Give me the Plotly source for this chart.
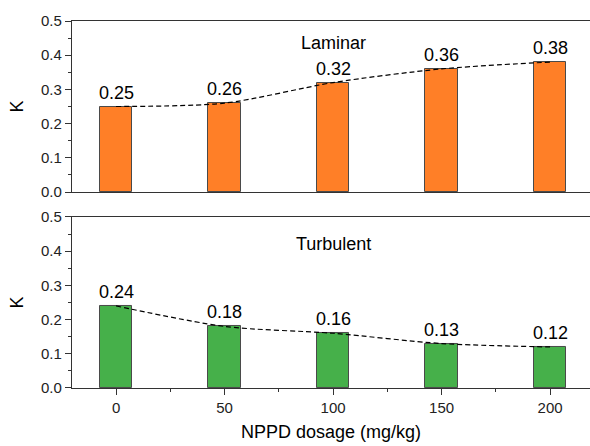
import plotly.graph_objects as go
from plotly.subplots import make_subplots

dosage = [0, 50, 100, 150, 200]
laminar_k = [0.25, 0.26, 0.32, 0.36, 0.38]
turbulent_k = [0.24, 0.18, 0.16, 0.13, 0.12]
laminar_labels = ["0.25", "0.26", "0.32", "0.36", "0.38"]
turbulent_labels = ["0.24", "0.18", "0.16", "0.13", "0.12"]

orange = "#FF7F27"
green = "#46B04A"
edge = "#4a4a4a"
axis_col = "#333333"
FONT = "Arial, Liberation Sans, sans-serif"

fig = make_subplots(rows=2, cols=1, shared_xaxes=False, vertical_spacing=0.068)

annotations = []
for row, vals, labels, col in [(1, laminar_k, laminar_labels, orange),
                               (2, turbulent_k, turbulent_labels, green)]:
    fig.add_trace(go.Bar(x=dosage, y=vals, width=15,
                         marker=dict(color=col, line=dict(color=edge, width=1)),
                         showlegend=False), row=row, col=1)
    fig.add_trace(go.Scatter(x=dosage, y=vals, mode="lines",
                             line=dict(color="black", width=1.2, dash="5px,3px", shape="spline", smoothing=0.8),
                             showlegend=False), row=row, col=1)
    xr = "x" if row == 1 else "x2"
    yr = "y" if row == 1 else "y2"
    for xv, yv, t in zip(dosage, vals, labels):
        annotations.append(dict(text=t, x=xv, y=yv, xref=xr, yref=yr, showarrow=False,
                                yanchor="bottom", yshift=2,
                                font=dict(size=18, color="black", family=FONT)))

annotations.append(dict(text="Laminar", x=100, y=0.436, xref="x", yref="y", showarrow=False,
                        font=dict(size=18, color="black", family=FONT)))
annotations.append(dict(text="Turbulent", x=100, y=0.421, xref="x2", yref="y2", showarrow=False,
                        font=dict(size=18, color="black", family=FONT)))

xcommon = dict(range=[-20.3, 218.4], showline=True, linecolor=axis_col, linewidth=1.3, mirror=True,
               showgrid=False, zeroline=False, tickvals=dosage)
fig.update_xaxes(**xcommon, showticklabels=False, ticks="", row=1, col=1)
fig.update_xaxes(**xcommon, ticks="outside", ticklen=6, tickcolor=axis_col, tickwidth=1.3,
                 minor=dict(ticks="outside", ticklen=3, tickcolor=axis_col, dtick=25, tick0=25),
                 title=dict(text="NPPD dosage (mg/kg)", font=dict(size=18, color="black", family=FONT),
                            standoff=10),
                 tickfont=dict(size=15, color="#222", family=FONT), row=2, col=1)
ycommon = dict(range=[0, 0.5], tickvals=[0, 0.1, 0.2, 0.3, 0.4, 0.5],
               ticktext=["0.0", "0.1", "0.2", "0.3", "0.4", "0.5"],
               showline=True, linecolor=axis_col, linewidth=1.3, showgrid=False, zeroline=False,
               ticks="outside", ticklen=6, tickcolor=axis_col, tickwidth=1.3,
               minor=dict(ticks="outside", ticklen=3, tickcolor=axis_col, dtick=0.05, tick0=0.05),
               tickfont=dict(size=15, color="#222", family=FONT),
               title=dict(text="K", font=dict(size=18, color="black", family=FONT), standoff=12))
fig.update_yaxes(**ycommon, row=1, col=1)
fig.update_yaxes(**ycommon, row=2, col=1)

fig.update_layout(
    width=590, height=446,
    margin=dict(l=72, r=0, t=21, b=58),
    plot_bgcolor="white", paper_bgcolor="white",
    font=dict(family=FONT, color="black"),
    bargap=0,
    annotations=annotations,
)
fig.update_xaxes(domain=[0, 1])
fig.layout.yaxis.domain = [0.534, 1]
fig.layout.yaxis2.domain = [0, 0.466]

fig.write_html("out.html", config={"displayModeBar": False},
               post_script="document.body.style.margin='0';document.body.style.overflow='hidden';")
